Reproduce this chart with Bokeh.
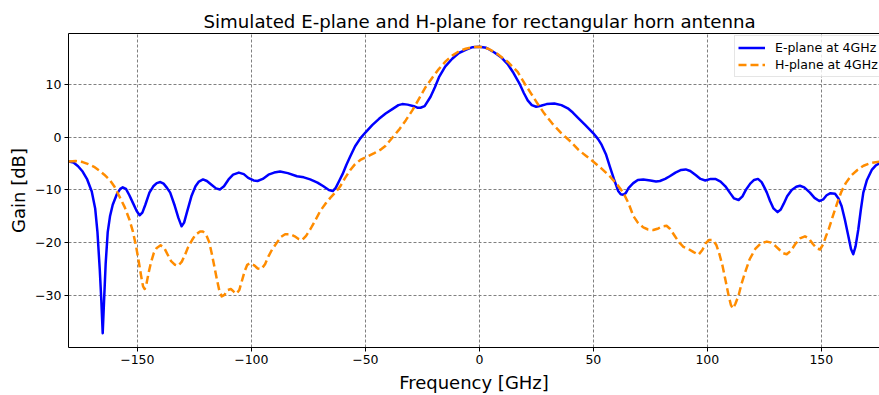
from bokeh.plotting import figure
from bokeh.models import Range1d, FixedTicker, LinearAxis, Legend, LegendItem
from bokeh.embed import file_html
from bokeh.resources import INLINE

title_text = "Simulated E-plane and H-plane for rectangular horn antenna"
x_label = "Frequency [GHz]"
y_label = "Gain [dB]"
legend_labels = ["E-plane at 4GHz", "H-plane at 4GHz"]

x_ticks = [-150, -100, -50, 0, 50, 100, 150]
y_ticks = [-30, -20, -10, 0, 10]

e_angle = [-180, -178, -176, -174, -172, -170, -168.5, -167.5, -166.5, -165.8,
           -165.2, -164.6, -163.9, -163, -162, -160.8, -159, -157.5, -156.4, -155,
           -153.5, -152, -150.3, -149, -147.8, -146.5, -144.7, -143, -141.5, -139.9,
           -138.5, -137, -135.6, -133.6, -132, -130.6, -129.5, -128.3, -126.3, -124.5,
           -123, -121.2, -119.5, -117.5, -115.5, -113.8, -112, -110, -108, -105.5,
           -103.3, -101.4, -99, -97.3, -95, -92.5, -90, -87.4, -84, -80,
           -77, -74.2, -71, -68.4, -66, -64.3, -63, -61.5, -60, -58.3,
           -56.6, -54.5, -52.2, -50, -47, -44, -41.1, -38, -35.5, -33.8,
           -31.5, -28.7, -27, -25.8, -24, -21.4, -19.5, -17.7, -15, -11.9,
           -9, -6, -3, 0, 3, 6.6, 9.5, 12.4, 15, 17.6,
           19.5, 21.2, 23, 24.9, 27, 29.5, 32.9, 36, 38.8, 41,
           43.5, 46.5, 49.9, 52, 53.6, 55.5, 57.2, 59, 60.9, 62,
           63.1, 64.2, 65.5, 67.5, 69.5, 71.9, 75, 77.5, 79.2, 81.5,
           83.5, 86, 88.5, 90.5, 92.5, 95, 97, 99.1, 101.5, 103.5,
           105.8, 107.9, 110, 111.7, 113.7, 115.4, 117, 118.8, 120.5, 122.2,
           123.8, 125, 126.1, 127.5, 129, 130.8, 132.2, 133.5, 135, 137,
           139, 140.6, 142.5, 145, 147, 149.1, 150.8, 152.3, 154, 156,
           157.5, 158.9, 160.3, 161.8, 163, 164, 165, 166.2, 167.3, 168.4,
           170, 172.1, 174, 176, 178, 180]
e_gain = [-4.6, -4.8, -5.5, -6.5, -8.0, -10.3, -13.5, -18, -25, -31,
          -37.2, -31, -24, -18, -15, -12.8, -10.8, -9.8, -9.5, -9.8,
          -11, -12.4, -14, -14.8, -14.3, -12.8, -10.5, -9.3, -8.7, -8.5,
          -8.8, -9.6, -10.5, -13, -15.3, -16.9, -16.2, -14.3, -11.2, -9.3,
          -8.4, -8.0, -8.3, -9, -9.7, -9.9, -9.3, -8, -7.1, -6.7,
          -7, -7.7, -8.2, -8.3, -7.9, -7.1, -6.7, -6.5, -6.8, -7.4,
          -7.6, -8, -8.6, -9.3, -10, -10.2, -9.6, -8.3, -7, -5.2,
          -3.6, -1.7, -0.2, 0.9, 2.3, 3.5, 4.5, 5.4, 6.1, 6.3,
          6.2, 5.9, 5.6, 5.6, 5.9, 7.7, 9.5, 11.4, 13.4, 14.9,
          16, 16.6, 17.1, 17.2, 17, 16.1, 15.2, 13.9, 12.2, 10.2,
          8.4, 7, 6.1, 5.8, 6, 6.3, 6.4, 6.1, 5.5, 4.7,
          3.6, 2.3, 0.8, -0.3, -1.4, -3.2, -5.5, -7.9, -10.2, -10.8,
          -10.9, -10.6, -9.6, -8.7, -8.1, -8, -8.2, -8.4, -8.3, -7.9,
          -7.4, -6.7, -6.2, -6.1, -6.4, -7.2, -7.9, -8.2, -7.9, -7.9,
          -8.4, -9.3, -10.6, -11.6, -11.9, -11.2, -9.9, -8.8, -8.1, -7.9,
          -8.5, -9.5, -10.5, -12.1, -13.5, -14.2, -13.7, -12.6, -11.2, -10,
          -9.4, -9.2, -9.5, -10.5, -11.5, -12.1, -11.8, -11, -10.6, -10.7,
          -11.6, -13.1, -15.6, -18.7, -21.2, -22.2, -20.7, -17.5, -13.8, -10.5,
          -8.1, -6.2, -5.3, -4.8, -4.6, -4.6]

h_angle = [-180, -177, -174, -171.5, -169, -166.7, -164.5, -162.3, -160, -157.9,
           -155.5, -153.5, -152, -150.6, -149.5, -148.4, -147.5, -146.8, -146, -145,
           -144, -142.8, -141.5, -139.8, -138.2, -136.8, -135.2, -133.5, -132.1, -130.5,
           -129, -127.7, -126, -124.5, -122.5, -121.2, -119.8, -118.5, -117.4, -116.2,
           -115.1, -114, -113, -111.8, -110.5, -109, -107.7, -106.5, -105.3, -104.3,
           -103, -101.8, -100.5, -98.8, -97.2, -95.6, -94, -92.5, -90.9, -88.8,
           -87, -85.2, -83, -81, -79.3, -77.8, -76, -74.2, -72, -69.8,
           -67.5, -65.4, -63, -61, -59, -56.6, -54.5, -52.2, -49, -46.1,
           -43.5, -41.1, -38, -35.3, -32.3, -29.4, -26.5, -23.6, -20.5, -17.7,
           -14.8, -11.9, -9, -6, -3, 0, 4, 8, 12.5, 16.8,
           20, 22.7, 25.5, 28.5, 32, 35.9, 40, 43.5, 47, 49.9,
           53.5, 57.2, 60.3, 63.1, 65.5, 67.5, 69.5, 71.9, 74, 76.3,
           78.5, 80.5, 82.1, 83.7, 85.5, 87.5, 89.5, 91.7, 94, 96.1,
           97.8, 99.3, 100.8, 102.5, 104, 105.3, 106.6, 107.8, 109.3, 110.3,
           111.2, 112.3, 113.7, 115, 116.6, 118.5, 121, 123.5, 126.1, 128,
           129.8, 131.5, 133.2, 134.8, 136.7, 138.5, 140.6, 142.8, 144.5, 146.2,
           148, 149.4, 150.8, 152, 153.2, 155, 157, 158.8, 160.7, 163,
           165.8, 168.5, 171.6, 175.6, 180]
h_gain = [-4.6, -4.5, -4.7, -5.1, -5.6, -6.3, -7.1, -8, -9.4, -11.2,
          -13.3, -15.6, -17.8, -20.6, -23.3, -26.2, -28.3, -28.8, -27.8, -25.6,
          -23.7, -22, -21, -20.5, -21, -22.2, -23.5, -24.2, -24.4, -23.6,
          -22.2, -20.8, -19.5, -18.5, -17.9, -17.9, -18.5, -19.9, -22, -24.6,
          -27, -29.2, -30.2, -29.9, -29, -28.8, -29.3, -29.7, -29, -27.5,
          -25.5, -24.2, -23.9, -24.3, -24.9, -25, -24.1, -22.6, -21.3, -20,
          -18.9, -18.4, -18.4, -18.8, -19.3, -19.5, -18.7, -17.5, -15.8, -14,
          -12.6, -11.5, -10.4, -9.3, -7.8, -6.2, -5.1, -4.3, -3.6, -3,
          -2.4, -1.6, 0, 1.4, 3.2, 5.1, 7.3, 9.5, 11.4, 13,
          14.4, 15.5, 16.3, 16.8, 17.1, 17.2, 16.8, 15.8, 14.3, 12.4,
          10.1, 8.3, 6.4, 4.5, 2.6, 0.8, -0.8, -2.4, -3.6, -4.6,
          -5.9, -7.4, -8.9, -10.5, -12.6, -14.9, -16.2, -17.1, -17.5, -17.6,
          -17.3, -16.9, -16.8, -17.4, -18.6, -19.9, -20.8, -21.2, -21.8, -22.3,
          -21.4, -20.1, -19.5, -19.5, -20.5, -22.2, -24.3, -26.8, -30, -31.8,
          -32.5, -31.6, -30, -27.8, -25.6, -23.2, -21.2, -20.1, -19.8, -20,
          -20.6, -21.3, -22, -22.2, -21.5, -20.3, -19.2, -18.8, -19.2, -20.2,
          -21.1, -21.3, -20.3, -18.8, -17.5, -15, -12.4, -10.3, -8.7, -7.3,
          -6.2, -5.4, -4.9, -4.6, -4.6]

FONT = "DejaVu Sans"

p = figure(width=879, height=395, output_backend="svg", toolbar_location=None,
           x_range=Range1d(-180.2, 175.5), y_range=Range1d(-39.9, 19.7),
           min_border_left=68, min_border_right=0, min_border_top=33,
           min_border_bottom=46)
p.outline_line_color = None
p.background_fill_color = "white"
p.border_fill_color = "white"

p.title.text = title_text
p.title.text_font = FONT
p.title.text_font_size = "18.2px"
p.title.text_font_style = "normal"
p.title.text_color = "black"
p.title.align = "left"
p.title.offset = 135
p.title.standoff = 4

xt = FixedTicker(ticks=x_ticks)
yt = FixedTicker(ticks=y_ticks)
p.xaxis.ticker = xt
p.yaxis.ticker = yt
p.xgrid.ticker = xt
p.ygrid.ticker = yt

def minus(v):
    return str(v).replace("-", "\u2212")

p.xaxis.major_label_overrides = {v: minus(v) for v in x_ticks}
p.yaxis.major_label_overrides = {v: minus(v) for v in y_ticks}

for ax in (p.xaxis[0], p.yaxis[0]):
    ax.axis_line_color = "black"
    ax.axis_line_width = 1
    ax.major_tick_line_color = "black"
    ax.major_tick_out = 4
    ax.major_tick_in = 0
    ax.minor_tick_line_color = None
    ax.major_label_text_font = FONT
    ax.major_label_text_font_size = "12.5px"
    ax.major_label_text_color = "black"
    ax.major_label_standoff = 3
    ax.axis_label_text_font = FONT
    ax.axis_label_text_font_size = "18px"
    ax.axis_label_text_font_style = "normal"
    ax.axis_label_text_color = "black"
    ax.axis_label_standoff = 5

p.xaxis.axis_label = x_label
p.yaxis.axis_label = y_label
p.yaxis.axis_label_standoff = 3

top = LinearAxis(ticker=FixedTicker(ticks=[]), major_tick_line_color=None,
                 minor_tick_line_color=None, major_label_text_font_size="0px",
                 axis_line_color="black", axis_line_width=1)
p.add_layout(top, "above")

for g in (p.xgrid[0], p.ygrid[0]):
    g.grid_line_color = "#808080"
    g.grid_line_dash = "3 2"
    g.grid_line_width = 1

r1 = p.line(e_angle, e_gain, line_color="#0000ff", line_width=2.5, line_join="round")
r2 = p.line(h_angle, h_gain, line_color="#ff8c00", line_width=2.5, line_dash="8 4",
            line_join="round")

legend = Legend(items=[LegendItem(label=legend_labels[0], renderers=[r1]),
                       LegendItem(label=legend_labels[1], renderers=[r2])],
                location=(666, 270))
legend.padding = 3
legend.spacing = 0
legend.margin = 0
legend.label_height = 17
legend.glyph_height = 17
legend.glyph_width = 27
legend.label_standoff = 10
legend.label_text_font = FONT
legend.label_text_font_size = "12.5px"
legend.label_text_color = "black"
legend.border_line_color = "#cccccc"
legend.border_line_width = 1
legend.background_fill_alpha = 0.8
p.add_layout(legend)

open("out.html", "w").write(file_html(p, INLINE))
